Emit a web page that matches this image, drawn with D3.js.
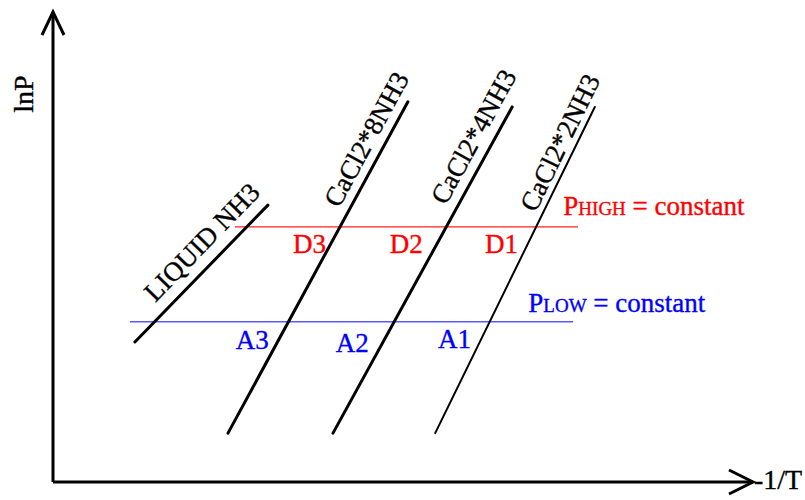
<!DOCTYPE html>
<html>
<head>
<meta charset="utf-8">
<title>lnP vs -1/T</title>
<script src="https://d3js.org/d3.v7.min.js"></script>
<style>
  body { margin: 0; background: #fff; }
  text { font-family: "Liberation Serif", "Times New Roman", serif; stroke-width: 0.35px; }
</style>
</head>
<body>
<div id="chart"></div>
<script>
// equilibrium lines, arbitrary units (x = -1/T, y = lnP)
var lineNames = ["LIQUID NH3", "CaCl2*8NH3", "CaCl2*4NH3", "CaCl2*2NH3"];
var lineStart = [[1.17, 2.98], [2.50, 1.04], [4.00, 1.04], [5.46, 1.04]];
var lineEnd   = [[3.07, 5.89], [5.07, 8.09], [6.56, 7.98], [7.74, 7.98]];
var lineWidth = [3, 3, 3, 2];
// label position along each line (fraction) and distance from it (px)
var labelAlong = [0.62, 0.86, 0.88, 0.87];
var labelOffset = [22, 19, 20, 16];

// constant pressure lines
var pHigh = 5.43, pHighRange = [2.60, 7.50];
var pLow = 3.41, pLowRange = [1.10, 7.43];

var dLabels = ["D3", "D2", "D1"], dX = [3.43, 4.81, 6.17], dY = 4.87;
var aLabels = ["A3", "A2", "A1"], aX = [2.61, 4.04, 5.50], aY = [2.83, 2.76, 2.85];

var width = 805, height = 500;
var x = d3.scaleLinear().domain([0, 10]).range([53, 753]);
var y = d3.scaleLinear().domain([0, 10]).range([482, 12]);

var svg = d3.select("#chart").append("svg")
    .attr("width", width)
    .attr("height", height);

// axes with open arrow heads
svg.append("path")
    .attr("d", "M" + x(0) + "," + y(0) + "L" + x(0) + "," + y(10))
    .attr("stroke", "#000").attr("stroke-width", 3).attr("fill", "none");
svg.append("path")
    .attr("d", "M" + (x(0) - 11) + "," + (y(10) + 23) + "L" + x(0) + "," + y(10) + "L" + (x(0) + 11) + "," + (y(10) + 23))
    .attr("stroke", "#000").attr("stroke-width", 3).attr("fill", "none");
svg.append("path")
    .attr("d", "M" + x(0) + "," + y(0) + "L" + x(10) + "," + y(0))
    .attr("stroke", "#000").attr("stroke-width", 3).attr("fill", "none");
svg.append("path")
    .attr("d", "M" + (x(10) - 24) + "," + (y(0) - 12) + "L" + x(10) + "," + y(0) + "L" + (x(10) - 24) + "," + (y(0) + 12))
    .attr("stroke", "#000").attr("stroke-width", 3).attr("fill", "none");

svg.append("text")
    .attr("transform", "translate(33," + 94 + ") rotate(-90)")
    .attr("text-anchor", "middle")
    .attr("stroke", "#000")
    .style("font-size", "28px")
    .text("lnP");
svg.append("text")
    .attr("x", x(10) + 1)
    .attr("y", y(0) + 7)
    .attr("stroke", "#000")
    .style("font-size", "28px")
    .text("-1/T");

// pressure lines
svg.append("line")
    .attr("x1", x(pHighRange[0])).attr("x2", x(pHighRange[1]))
    .attr("y1", y(pHigh)).attr("y2", y(pHigh))
    .attr("stroke", "#ff2020").attr("stroke-width", 1.2);
svg.append("line")
    .attr("x1", x(pLowRange[0])).attr("x2", x(pLowRange[1]))
    .attr("y1", y(pLow)).attr("y2", y(pLow))
    .attr("stroke", "#5a5aff").attr("stroke-width", 1.6);

// phase lines and their labels
lineNames.forEach(function (name, i) {
    var x1 = x(lineStart[i][0]), y1 = y(lineStart[i][1]);
    var x2 = x(lineEnd[i][0]), y2 = y(lineEnd[i][1]);
    svg.append("line")
        .attr("x1", x1).attr("y1", y1).attr("x2", x2).attr("y2", y2)
        .attr("stroke", "#000").attr("stroke-width", lineWidth[i])
        .attr("stroke-linecap", "round");
    var angle = Math.atan2(y2 - y1, x2 - x1) * 180 / Math.PI;
    var cx = x1 + (x2 - x1) * labelAlong[i];
    var cy = y1 + (y2 - y1) * labelAlong[i];
    svg.append("text")
        .attr("transform", "translate(" + cx + "," + cy + ") rotate(" + angle + ")")
        .attr("text-anchor", "middle")
        .attr("y", -labelOffset[i])
        .attr("dy", "0.35em")
        .attr("stroke", "#000")
        .style("font-size", "27px")
        .text(name);
});

svg.selectAll(".dlab")
    .data(dLabels)
    .enter().append("text")
    .attr("class", "dlab")
    .attr("x", function (d, i) { return x(dX[i]); })
    .attr("y", y(dY))
    .attr("fill", "#ff0000")
    .attr("stroke", "#ff0000")
    .style("font-size", "27px")
    .text(function (d) { return d; });

svg.selectAll(".alab")
    .data(aLabels)
    .enter().append("text")
    .attr("class", "alab")
    .attr("x", function (d, i) { return x(aX[i]); })
    .attr("y", function (d, i) { return y(aY[i]); })
    .attr("fill", "#0000ff")
    .attr("stroke", "#0000ff")
    .style("font-size", "27px")
    .text(function (d) { return d; });

var high = svg.append("text")
    .attr("x", x(7.29)).attr("y", y(5.68))
    .attr("fill", "#ff0000")
    .attr("stroke", "#ff0000")
    .style("font-size", "27px");
high.append("tspan").text("P");
high.append("tspan").style("font-size", "19px").text("HIGH");
high.append("tspan").text(" = constant");

var low = svg.append("text")
    .attr("x", x(6.79)).attr("y", y(3.62))
    .attr("fill", "#0000ff")
    .attr("stroke", "#0000ff")
    .style("font-size", "27px");
low.append("tspan").text("P");
low.append("tspan").style("font-size", "19px").text("LOW");
low.append("tspan").text(" = constant");
</script>
</body>
</html>
